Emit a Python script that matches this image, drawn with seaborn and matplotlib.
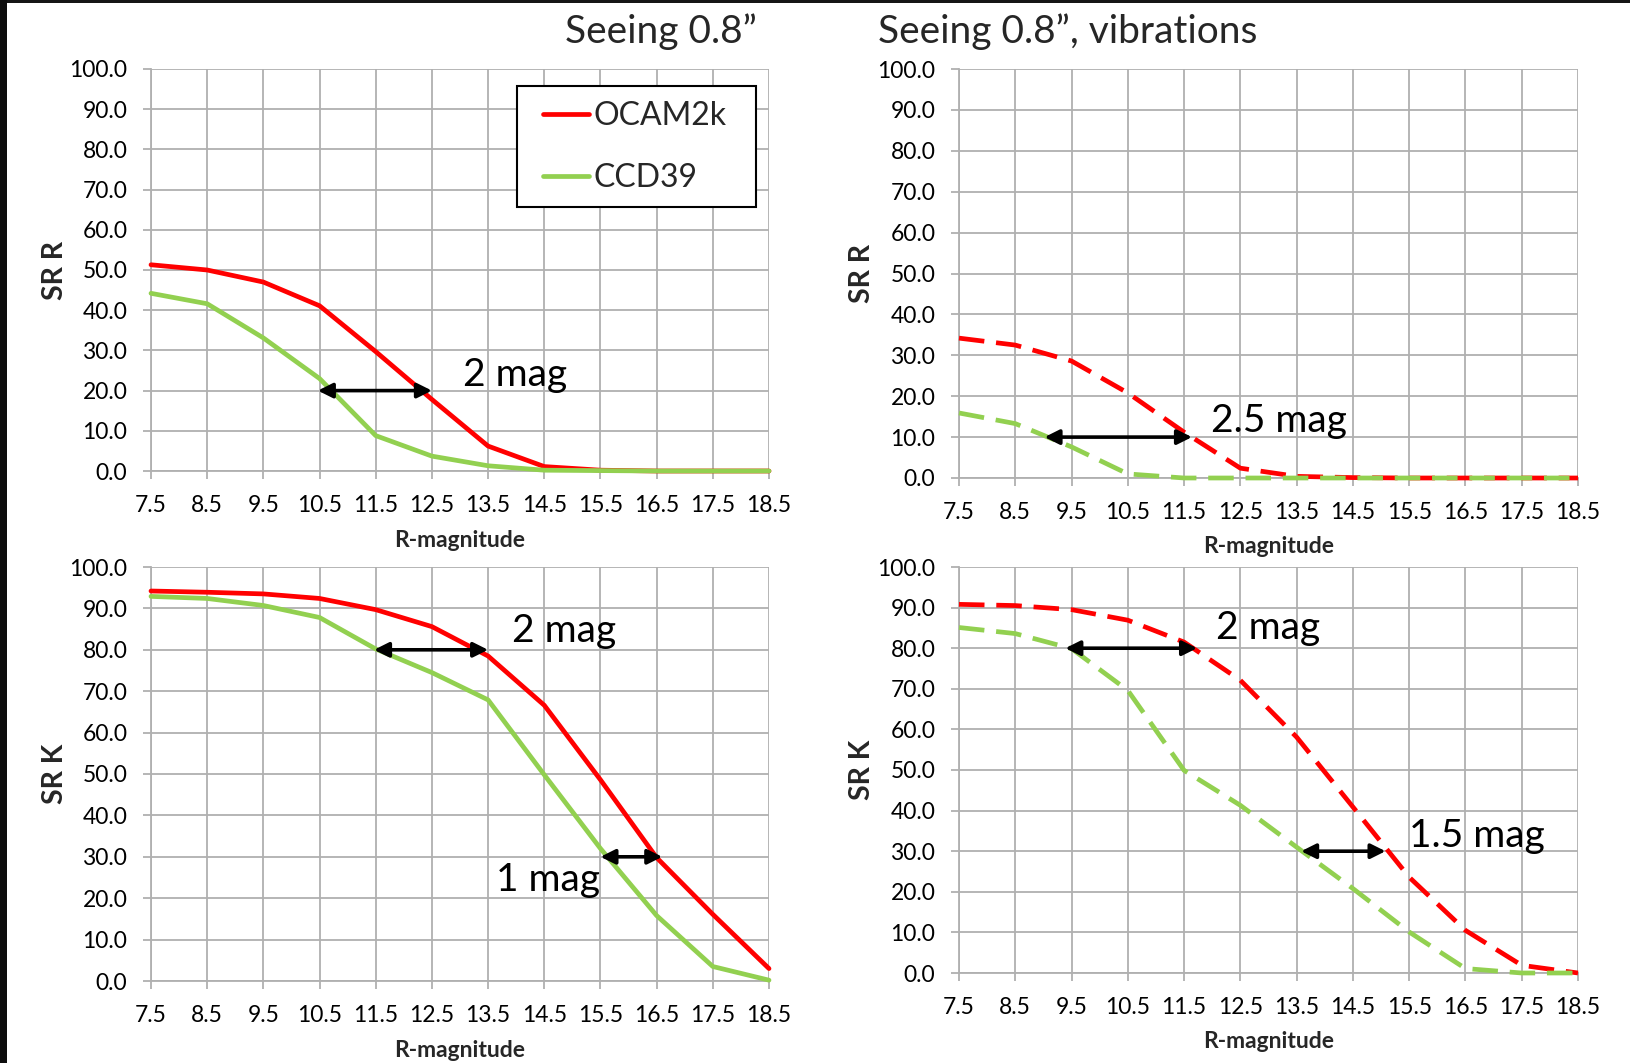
import numpy as np
import pandas as pd
import matplotlib
matplotlib.use("Agg")
import matplotlib.pyplot as plt
from matplotlib.patches import Rectangle
import seaborn as sns

# ---------------- data ----------------
magnitudes = [7.5, 8.5, 9.5, 10.5, 11.5, 12.5, 13.5, 14.5, 15.5, 16.5, 17.5, 18.5]
series_names = ["OCAM2k", "CCD39"]

# Seeing 0.8", SR in R
sr_r_ocam = [51.3, 50.0, 47.0, 41.1, 29.7, 17.8, 6.2, 1.1, 0.2, 0.0, 0.0, 0.0]
sr_r_ccd = [44.2, 41.6, 33.1, 23.0, 8.8, 3.7, 1.3, 0.2, 0.1, 0.0, 0.0, 0.0]
# Seeing 0.8", vibrations, SR in R
sr_r_vib_ocam = [34.2, 32.5, 28.6, 20.8, 11.2, 2.4, 0.4, 0.1, 0.0, 0.0, 0.0, 0.0]
sr_r_vib_ccd = [15.9, 13.3, 7.6, 1.0, 0.0, 0.0, 0.0, 0.0, 0.0, 0.0, 0.0, 0.0]
# Seeing 0.8", SR in K
sr_k_ocam = [94.2, 93.9, 93.5, 92.4, 89.7, 85.6, 78.5, 66.6, 48.6, 29.8, 16.1, 3.0]
sr_k_ccd = [92.9, 92.4, 90.7, 87.8, 80.2, 74.5, 67.9, 49.8, 32.0, 15.8, 3.5, 0.2]
# Seeing 0.8", vibrations, SR in K
sr_k_vib_ocam = [90.8, 90.5, 89.5, 86.9, 81.5, 72.1, 58.1, 40.9, 23.6, 10.5, 1.9, 0.0]
sr_k_vib_ccd = [85.1, 83.6, 79.9, 69.6, 49.9, 41.3, 31.0, 20.8, 10.1, 1.1, 0.0, 0.0]

y_ticks = [0, 10, 20, 30, 40, 50, 60, 70, 80, 90, 100]

titles = ["Seeing 0.8\u201d", "Seeing 0.8\u201d, vibrations"]
ylabels = ["SR R", "SR K"]
xlabel = "R-magnitude"

# annotations: (x_start, x_end, y) for arrows, text (label, x, y)
ann_tl = [(10.47, 12.5, 20.0)]
txt_tl = [("2 mag", 13.05, 24.0)]
ann_tr = [(9.02, 11.64, 10.0)]
txt_tr = [("2.5 mag", 11.97, 14.0)]
ann_bl = [(11.47, 13.5, 80.0), (15.5, 16.6, 30.0)]
txt_bl = [("2 mag", 13.93, 84.5), ("1 mag", 13.64, 24.3)]
ann_br = [(9.39, 11.73, 80.0), (13.58, 15.08, 30.0)]
txt_br = [("2 mag", 12.07, 84.9), ("1.5 mag", 15.5, 33.8)]

# ---------------- style ----------------
sns.set_theme(style="white")
plt.rcParams["font.family"] = ["Lato", "DejaVu Sans"]

RED = "#FF0000"
GREEN = "#92D050"
GRID = "#b0b0b0"

W, H = 1630, 1063
fig = plt.figure(figsize=(W / 100, H / 100), dpi=100)
fig.patch.set_facecolor("white")


def px_axes(x0, y0, x1, y1):
    return fig.add_axes([x0 / W, 1 - y1 / H, (x1 - x0) / W, (y1 - y0) / H])


ax_tl = px_axes(151, 69, 769, 471)
ax_tr = px_axes(959, 69, 1578, 478)
ax_bl = px_axes(151, 567, 769, 981)
ax_br = px_axes(959, 567, 1578, 973)


def make_df(ocam, ccd):
    return pd.DataFrame({
        "mag": magnitudes * 2,
        "sr": list(ocam) + list(ccd),
        "camera": [series_names[0]] * len(magnitudes) + [series_names[1]] * len(magnitudes),
    })


def draw_panel(ax, ocam, ccd, dashed, ylab, arrows, texts, xlab_y):
    df = make_df(ocam, ccd)
    for name, col in zip(series_names, [RED, GREEN]):
        sub = df[df["camera"] == name]
        sns.lineplot(data=sub, x="mag", y="sr", ax=ax, color=col, lw=3.4,
                     label=name, legend=False, clip_on=False, zorder=3,
                     estimator=None)
    if dashed:
        for ln in ax.lines:
            ln.set_dashes((5.4, 2.5))
            ln.set_dash_capstyle("butt")
    ax.set_xlim(magnitudes[0], magnitudes[-1])
    ax.set_ylim(0, 100)
    ax.set_xticks(magnitudes)
    ax.set_xticklabels([f"{m:.1f}" for m in magnitudes])
    ax.set_yticks(y_ticks)
    ax.set_yticklabels([f"{v:.1f}" for v in y_ticks])
    ax.grid(True, color=GRID, lw=1.3)
    ax.set_axisbelow(True)
    for s in ["top", "right"]:
        ax.spines[s].set_visible(False)
    for s in ["left", "bottom"]:
        ax.spines[s].set_color(GRID)
        ax.spines[s].set_linewidth(1.3)
    ax.tick_params(axis="both", which="major", length=6, width=1.3, color=GRID,
                   labelsize=16.5, pad=11, labelcolor="black",
                   bottom=True, left=True, direction="out")
    ax.set_xlabel(xlabel, fontsize=16.5, fontweight="bold")
    ax.xaxis.set_label_coords(0.5, xlab_y)
    ax.set_ylabel(ylab, fontsize=20.5, fontweight="bold", labelpad=0)
    ax.yaxis.set_label_coords(-0.135, 0.5)
    for (xa, xb, y) in arrows:
        ax.annotate("", xy=(xb, y), xytext=(xa, y),
                    arrowprops=dict(arrowstyle="<|-|>", color="black", lw=2.6,
                                    mutation_scale=22, shrinkA=0, shrinkB=0),
                    zorder=5)
    for (t, x, y) in texts:
        ax.text(x, y, t, fontsize=28, ha="left", va="center", color="black",
                zorder=6)


draw_panel(ax_tl, sr_r_ocam, sr_r_ccd, False, ylabels[0], ann_tl, txt_tl, -0.147)
draw_panel(ax_tr, sr_r_vib_ocam, sr_r_vib_ccd, True, ylabels[0], ann_tr, txt_tr, -0.142)
draw_panel(ax_bl, sr_k_ocam, sr_k_ccd, False, ylabels[1], ann_bl, txt_bl, -0.1425)
draw_panel(ax_br, sr_k_vib_ocam, sr_k_vib_ccd, True, ylabels[1], ann_br, txt_br, -0.143)

# legend in the top-left panel (entries without frame + separate box)
leg = ax_tl.legend(loc="upper left", bbox_to_anchor=(0.634, 0.920),
                   borderaxespad=0, fontsize=23, handlelength=1.45,
                   handletextpad=0.15, borderpad=0.0, labelspacing=1.0,
                   frameon=False)
leg.set_zorder(8)
for h in leg.legend_handles:
    h.set_linewidth(3.4)
box = Rectangle((0.592, 0.657), 0.387, 0.301, transform=ax_tl.transAxes,
                facecolor="white", edgecolor="black", lw=1.5, zorder=7,
                clip_on=False)
ax_tl.add_patch(box)

# titles
fig.text(661 / W, 1 - 43 / H, titles[0], fontsize=28, ha="center", va="baseline")
fig.text(878 / W, 1 - 43 / H, titles[1], fontsize=28, ha="left", va="baseline")

# dark frame strips of the screenshot
fig.add_artist(Rectangle((0, 1 - 3 / H), 1, 3 / H, transform=fig.transFigure,
                         facecolor="#151515", edgecolor="none", zorder=10))
fig.add_artist(Rectangle((0, 0), 7 / W, 1, transform=fig.transFigure,
                         facecolor="#0d0d0d", edgecolor="none", zorder=10))

fig.savefig("out.png", dpi=100)
